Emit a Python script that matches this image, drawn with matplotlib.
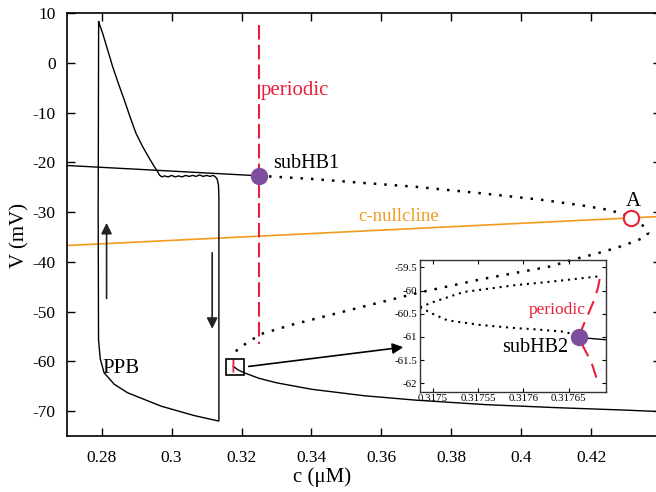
import matplotlib
matplotlib.use("Agg")
import matplotlib.pyplot as plt
from matplotlib.patches import Rectangle

plt.rcParams['font.family'] = ['Liberation Serif', 'DejaVu Serif']
plt.rcParams['axes.unicode_minus'] = False

# ---------------- data ----------------
# stable upper branch
upper_c = [0.27, 0.32486]
upper_V = [-20.6, -22.67]
# unstable branch (dotted) from subHB1 through fold to lower part
unst_c = [0.32486, 0.3400, 0.3540, 0.3700, 0.3900, 0.4054, 0.4180, 0.4245, 0.4290, 0.4314,
          0.4340, 0.4357, 0.4363, 0.4358, 0.4331, 0.4273, 0.4216, 0.4149, 0.4083,
          0.3883, 0.3711, 0.3540, 0.3349, 0.3254, 0.3188, 0.3178]
unst_V = [-22.67, -23.3, -24.07, -24.9, -26.3, -27.47, -28.7, -29.48, -30.3, -31.28,
          -32.3, -33.2, -34.1, -34.8, -35.7, -37.15, -38.30, -39.50, -40.90,
          -43.51, -46.11, -49.12, -52.53, -54.53, -57.54, -59.0]
# stable lower branch
lower_c = [0.31766, 0.3190, 0.3208, 0.3250, 0.3300, 0.3400, 0.3550, 0.3700, 0.3900, 0.4100, 0.4300, 0.4400]
lower_V = [-61.0, -61.7, -62.3, -63.4, -64.3, -65.6, -66.9, -67.8, -68.7, -69.3, -69.8, -70.1]
# c-nullcline
null_c = [0.27, 0.44]
null_V = [-36.7, -30.85]
# PPB trajectory
ppb_c = [0.27913, 0.27961, 0.28028, 0.28171, 0.28314, 0.28476, 0.28647, 0.28809, 0.28981,
         0.29172, 0.29362, 0.29505, 0.29600, 0.2965, 0.2972, 0.2980,
         0.2990, 0.3000, 0.3010, 0.3020, 0.3030, 0.3040, 0.3050, 0.3060, 0.3070, 0.3080,
         0.3090, 0.3100, 0.3110, 0.3118, 0.3124, 0.3130, 0.3134, 0.31352, 0.31352,
         0.3065, 0.2970, 0.2874, 0.2836, 0.2807, 0.2796, 0.2791, 0.2790, 0.27913]
ppb_V = [8.32, 7.32, 5.98, 2.63, -0.73, -4.08, -7.43, -10.78, -14.13,
         -16.81, -19.16, -20.83, -21.84, -22.5, -22.9, -22.7,
         -22.9, -22.6, -22.9, -22.7, -22.9, -22.6, -22.8, -22.6, -22.8, -22.5,
         -22.8, -22.6, -22.8, -22.6, -22.8, -23.3, -24.5, -27.0, -72.0,
         -70.9, -69.0, -66.3, -64.6, -62.3, -59.5, -55.6, -30.0, 8.32]
# periodic (Hopf) branch, main view
per_c = [0.32486, 0.32486]
per_V = [7.6, -56.5]
# bifurcation points
hb1 = (0.32486, -22.67)
fold_A = (0.43143, -31.2)
hb2 = (0.317661, -61.01)
# inset data
insB_c = [0.317486, 0.317500, 0.317534, 0.317592, 0.317629, 0.317684]
insB_V = [-60.36, -60.25, -60.03, -59.88, -59.81, -59.69]
insC_c = [0.317486, 0.317500, 0.317516, 0.317552, 0.317592, 0.317610, 0.317647, 0.317661]
insC_V = [-60.36, -60.50, -60.64, -60.74, -60.81, -60.83, -60.89, -61.01]
insS_c = [0.317661, 0.317691]
insS_V = [-61.01, -61.06]
insP_c = [0.317684, 0.317682, 0.317678, 0.317672, 0.317666, 0.317661, 0.317667, 0.317675, 0.317680, 0.317683]
insP_V = [-59.75, -59.95, -60.20, -60.48, -60.75, -61.01, -61.25, -61.55, -61.85, -62.05]

xticks_main = [0.28, 0.3, 0.32, 0.34, 0.36, 0.38, 0.4, 0.42]
xticklabels_main = ['0.28', '0.3', '0.32', '0.34', '0.36', '0.38', '0.4', '0.42']
yticks_main = [10, 0, -10, -20, -30, -40, -50, -60, -70]
xticks_ins = [0.3175, 0.31755, 0.3176, 0.31765]
xticklabels_ins = ['0.3175', '0.31755', '0.3176', '0.31765']
yticks_ins = [-59.5, -60, -60.5, -61, -61.5, -62]
yticklabels_ins = ['-59.5', '-60', '-60.5', '-61', '-61.5', '-62']

# ---------------- styles ----------------
RED = '#E8213A'
PURPLE = '#7E4E9E'
ORANGE = '#F29B1D'

fig = plt.figure(figsize=(6.56, 4.92), dpi=100)
ax = fig.add_axes([66.7/656, 56/492, 594.5/656, 422.7/492])
ax.set_xlim(0.27, 0.44)
ax.set_ylim(-75, 10)

ax.plot(null_c, null_V, color=ORANGE, lw=1.2, zorder=2)
ax.plot(upper_c, upper_V, color='k', lw=1.0, zorder=3)
ax.plot(lower_c, lower_V, color='k', lw=1.0, zorder=3)
ax.plot(unst_c, unst_V, color='k', lw=1.8, ls=(0, (1, 3.2)), zorder=3)
ax.plot(ppb_c, ppb_V, color='k', lw=1.0, zorder=3)
ax.plot(per_c, per_V, color=RED, lw=1.5, dashes=(7, 2.5), zorder=3)
ax.plot(insP_c, insP_V, color=RED, lw=1.3, zorder=3)

ax.plot(*hb1, 'o', ms=11.5, color=PURPLE, mec=PURPLE, zorder=5)
ax.plot(*fold_A, 'o', ms=11, mfc='white', mec=RED, mew=1.5, zorder=5)

ax.add_patch(Rectangle((0.31546, -62.69), 0.00515, 3.21, fill=False, ec='k', lw=1.2, zorder=4))

ax.annotate('', xy=(0.36702, -57.07), xytext=(0.32126, -61.08),
            arrowprops=dict(arrowstyle='-|>', mutation_scale=16, lw=1.2, color='k'))
ax.annotate('', xy=(0.2814, -31.6), xytext=(0.2814, -47.9),
            arrowprops=dict(arrowstyle='-|>', mutation_scale=16, lw=1.2, color='#222222'))
ax.annotate('', xy=(0.3116, -54.0), xytext=(0.3116, -37.6),
            arrowprops=dict(arrowstyle='-|>', mutation_scale=16, lw=1.2, color='#222222'))

ax.text(0.32535, -5.54, 'periodic', color=RED, fontsize=15, ha='left', va='center')
ax.text(0.32899, -20.3, 'subHB1', color='k', fontsize=14.5, ha='left', va='center')
ax.text(0.3648, -30.9, 'c-nullcline', color=ORANGE, fontsize=13.5, ha='center', va='center')
ax.text(0.43213, -27.8, 'A', color='k', fontsize=15, ha='center', va='center')
ax.text(0.28029, -61.47, 'PPB', color='k', fontsize=15, ha='left', va='center')

ax.set_xticks(xticks_main)
ax.set_xticklabels(xticklabels_main)
ax.set_yticks(yticks_main)
ax.tick_params(direction='in', length=6, width=1, top=True, right=True, labelsize=12.5)
ax.tick_params(axis='x', pad=10)
ax.tick_params(axis='y', pad=8)
for s in ax.spines.values():
    s.set_linewidth(1.2)

fig.text(322.5/656, 1 - 477/492, 'c (μM)', fontsize=15, ha='center', va='center')
fig.text(20/656, 1 - 236/492, 'V (mV)', fontsize=15, ha='center', va='center', rotation=90)

# ---------------- inset ----------------
ins = fig.add_axes([420/656, (492-391.7)/492, 186/656, 131.7/492])
ins.patch.set_alpha(0)
ins.set_xlim(0.317486, 0.317691)
ins.set_ylim(-62.18, -59.34)
ins.plot(insB_c, insB_V, color='k', lw=1.5, ls=(0, (1, 2.3)))
ins.plot(insC_c, insC_V, color='k', lw=1.5, ls=(0, (1, 2.3)))
ins.plot(insS_c, insS_V, color='k', lw=1.0)
ins.plot(insP_c, insP_V, color=RED, lw=1.5, dashes=(7, 4))
ins.plot(*hb2, 'o', ms=11.5, color=PURPLE, zorder=5)
ins.text(0.317637, -60.41, 'periodic', color=RED, fontsize=12.5, ha='center', va='center')
ins.text(0.317613, -61.22, 'subHB2', color='k', fontsize=14.5, ha='center', va='center')
ins.set_xticks(xticks_ins)
ins.set_xticklabels(xticklabels_ins)
ins.set_yticks(yticks_ins)
ins.set_yticklabels(yticklabels_ins)
ins.tick_params(direction='in', length=3, width=0.8, top=True, right=True, labelsize=7.8, pad=2)
ins.tick_params(axis='x', pad=1.5)
for s in ins.spines.values():
    s.set_linewidth(1.0)
    s.set_color('#333333')

fig.savefig('out.png', dpi=100)
